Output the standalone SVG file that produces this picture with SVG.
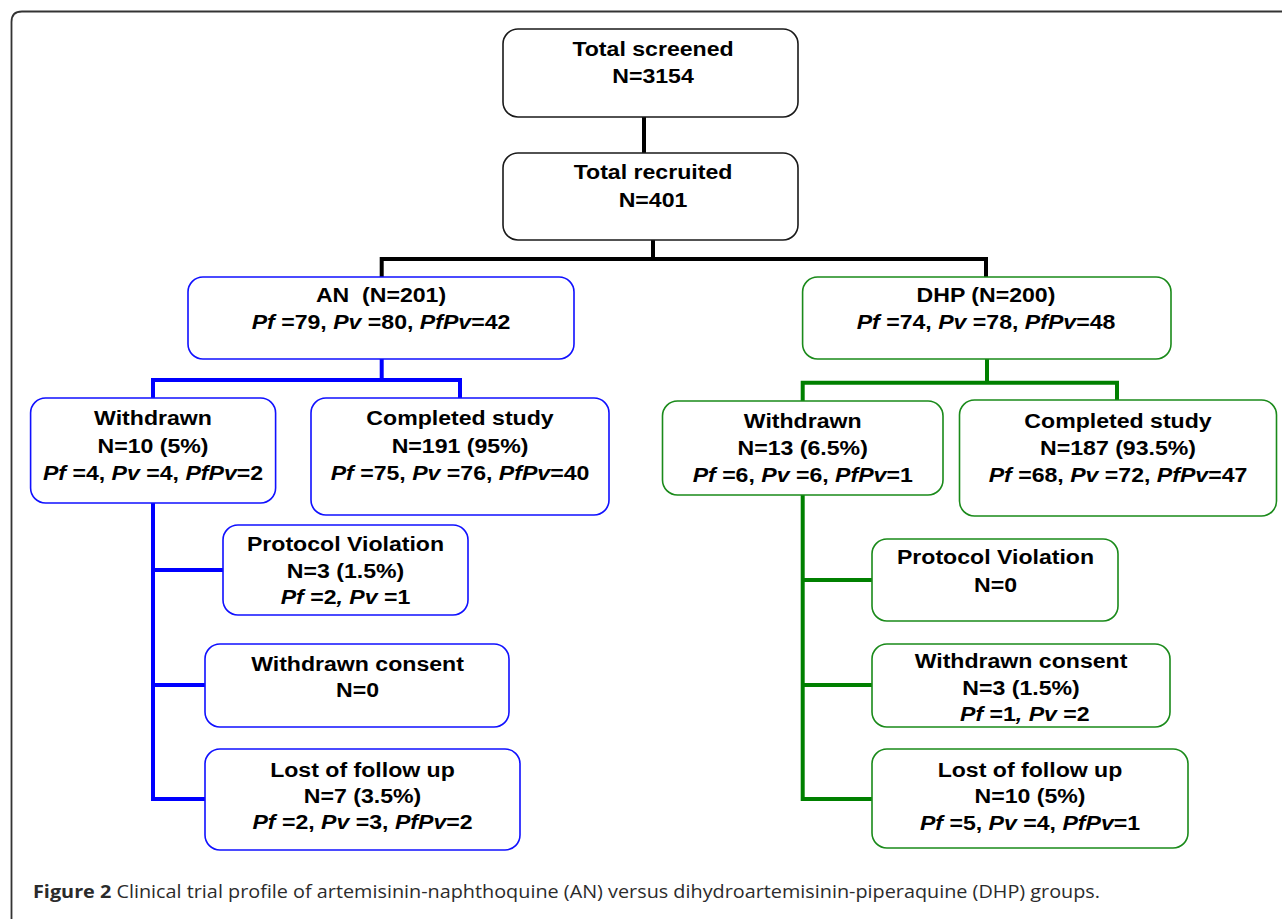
<svg xmlns="http://www.w3.org/2000/svg" width="1282" height="919" viewBox="0 0 1282 919">
<style>
.t{font-family:"Liberation Sans",Arial,sans-serif;font-weight:bold;font-size:21px;fill:#000;text-anchor:middle}
.i{font-style:italic}
.bk{fill:#fff;stroke:#1a1a1a;stroke-width:1.6}
.bl{fill:#fff;stroke:#1010ff;stroke-width:1.6}
.gr{fill:#fff;stroke:#1a8a1a;stroke-width:1.6}
.ck{fill:none;stroke:#000;stroke-width:4}
.cb{fill:none;stroke:#0000ff;stroke-width:4}
.cg{fill:none;stroke:#008000;stroke-width:4}
.cap{font-family:"Open Sans","Noto Sans",sans-serif;font-size:18.5px;fill:#2b2b2b}
</style>
<rect width="1282" height="919" fill="#fff"/>
<path d="M11.5 919 V22 Q11.5 11.5 22 11.5 H1282" fill="none" stroke="#333" stroke-width="1.8"/>

<g id="connectors">
  <path class="ck" d="M644 117 V153"/>
  <path class="ck" d="M653 240 V259"/>
  <path class="ck" d="M381.7 277 V259 H986 V277"/>
  <path class="cb" d="M381.7 359 V380"/>
  <path class="cb" d="M153 398 V380 H460 V398"/>
  <path class="cb" d="M153 503 V799 H205"/>
  <path class="cb" d="M153 570 H223"/>
  <path class="cb" d="M153 685 H205"/>
  <path class="cg" d="M987 359 V382.7"/>
  <path class="cg" d="M802.7 401 V382.7 H1117 V400"/>
  <path class="cg" d="M802.7 495 V799 H872"/>
  <path class="cg" d="M802.7 580 H872"/>
  <path class="cg" d="M802.7 685 H872"/>
</g>

<g id="screened">
  <rect class="bk" x="503" y="29" width="295" height="88" rx="15"/>
  <g class="t" transform="translate(653 0) scale(1.1 1)">
    <text x="0" y="55.7">Total screened</text>
    <text x="0" y="83.3">N=3154</text>
  </g>
</g>

<g id="recruited">
  <rect class="bk" x="503" y="153" width="295" height="87" rx="15"/>
  <g class="t" transform="translate(653 0) scale(1.1 1)">
    <text x="0" y="179">Total recruited</text>
    <text x="0" y="206.7">N=401</text>
  </g>
</g>

<g id="an">
  <rect class="bl" x="188" y="277" width="386" height="82" rx="15"/>
  <g class="t" transform="translate(381 0) scale(1.1 1)">
    <text x="0" y="302" xml:space="preserve">AN  (N=201)</text>
    <text x="0" y="329"><tspan class="i">Pf</tspan> =79, <tspan class="i">Pv</tspan> =80, <tspan class="i">PfPv</tspan>=42</text>
  </g>
</g>

<g id="dhp">
  <rect class="gr" x="802.6" y="277" width="368.4" height="82" rx="15"/>
  <g class="t" transform="translate(986 0) scale(1.1 1)">
    <text x="0" y="302">DHP (N=200)</text>
    <text x="0" y="329"><tspan class="i">Pf</tspan> =74, <tspan class="i">Pv</tspan> =78, <tspan class="i">PfPv</tspan>=48</text>
  </g>
</g>

<g id="an-withdrawn">
  <rect class="bl" x="30.6" y="398" width="245" height="105" rx="15"/>
  <g class="t" transform="translate(153 0) scale(1.1 1)">
    <text x="0" y="425">Withdrawn</text>
    <text x="0" y="453">N=10 (5%)</text>
    <text x="0" y="480"><tspan class="i">Pf</tspan> =4, <tspan class="i">Pv</tspan> =4, <tspan class="i">PfPv</tspan>=2</text>
  </g>
</g>

<g id="an-completed">
  <rect class="bl" x="311" y="398" width="298" height="117" rx="15"/>
  <g class="t" transform="translate(460 0) scale(1.1 1)">
    <text x="0" y="425">Completed study</text>
    <text x="0" y="453">N=191 (95%)</text>
    <text x="0" y="480"><tspan class="i">Pf</tspan> =75, <tspan class="i">Pv</tspan> =76, <tspan class="i">PfPv</tspan>=40</text>
  </g>
</g>

<g id="dhp-withdrawn">
  <rect class="gr" x="662.5" y="401" width="280.5" height="94" rx="15"/>
  <g class="t" transform="translate(802.7 0) scale(1.1 1)">
    <text x="0" y="428">Withdrawn</text>
    <text x="0" y="455">N=13 (6.5%)</text>
    <text x="0" y="482"><tspan class="i">Pf</tspan> =6, <tspan class="i">Pv</tspan> =6, <tspan class="i">PfPv</tspan>=1</text>
  </g>
</g>

<g id="dhp-completed">
  <rect class="gr" x="959.5" y="400" width="317" height="116" rx="15"/>
  <g class="t" transform="translate(1118 0) scale(1.1 1)">
    <text x="0" y="428">Completed study</text>
    <text x="0" y="455">N=187 (93.5%)</text>
    <text x="0" y="482"><tspan class="i">Pf</tspan> =68, <tspan class="i">Pv</tspan> =72, <tspan class="i">PfPv</tspan>=47</text>
  </g>
</g>

<g id="an-protocol">
  <rect class="bl" x="223" y="525" width="245" height="90" rx="15"/>
  <g class="t" transform="translate(345.5 0) scale(1.1 1)">
    <text x="0" y="551">Protocol Violation</text>
    <text x="0" y="578">N=3 (1.5%)</text>
    <text x="0" y="604"><tspan class="i">Pf</tspan> =2<tspan class="i">,</tspan> <tspan class="i">Pv</tspan> =1</text>
  </g>
</g>

<g id="an-consent">
  <rect class="bl" x="205" y="644" width="304" height="83" rx="15"/>
  <g class="t" transform="translate(357.5 0) scale(1.1 1)">
    <text x="0" y="671">Withdrawn consent</text>
    <text x="0" y="697">N=0</text>
  </g>
</g>

<g id="an-lost">
  <rect class="bl" x="205" y="749" width="315" height="101" rx="15"/>
  <g class="t" transform="translate(362.5 0) scale(1.1 1)">
    <text x="0" y="777">Lost of follow up</text>
    <text x="0" y="803">N=7 (3.5%)</text>
    <text x="0" y="829"><tspan class="i">Pf</tspan> =2, <tspan class="i">Pv</tspan> =3, <tspan class="i">PfPv</tspan>=2</text>
  </g>
</g>

<g id="dhp-protocol">
  <rect class="gr" x="872" y="539" width="246" height="82" rx="15"/>
  <g class="t" transform="translate(995.5 0) scale(1.1 1)">
    <text x="0" y="564">Protocol Violation</text>
    <text x="0" y="592">N=0</text>
  </g>
</g>

<g id="dhp-consent">
  <rect class="gr" x="872" y="644" width="298" height="83" rx="15"/>
  <g class="t" transform="translate(1021 0) scale(1.1 1)">
    <text x="0" y="668">Withdrawn consent</text>
    <text x="0" y="695">N=3 (1.5%)</text>
    <text x="3.5" y="721"><tspan class="i">Pf</tspan> =1<tspan class="i">,</tspan> <tspan class="i">Pv</tspan> =2</text>
  </g>
</g>

<g id="dhp-lost">
  <rect class="gr" x="872" y="749" width="316" height="99" rx="15"/>
  <g class="t" transform="translate(1030 0) scale(1.1 1)">
    <text x="0" y="777">Lost of follow up</text>
    <text x="0" y="803">N=10 (5%)</text>
    <text x="0" y="830"><tspan class="i">Pf</tspan> =5, <tspan class="i">Pv</tspan> =4, <tspan class="i">PfPv</tspan>=1</text>
  </g>
</g>

<text class="cap" x="33" y="898" textLength="1067" lengthAdjust="spacingAndGlyphs"><tspan font-weight="bold">Figure 2</tspan> Clinical trial profile of artemisinin-naphthoquine (AN) versus dihydroartemisinin-piperaquine (DHP) groups.</text>
</svg>
